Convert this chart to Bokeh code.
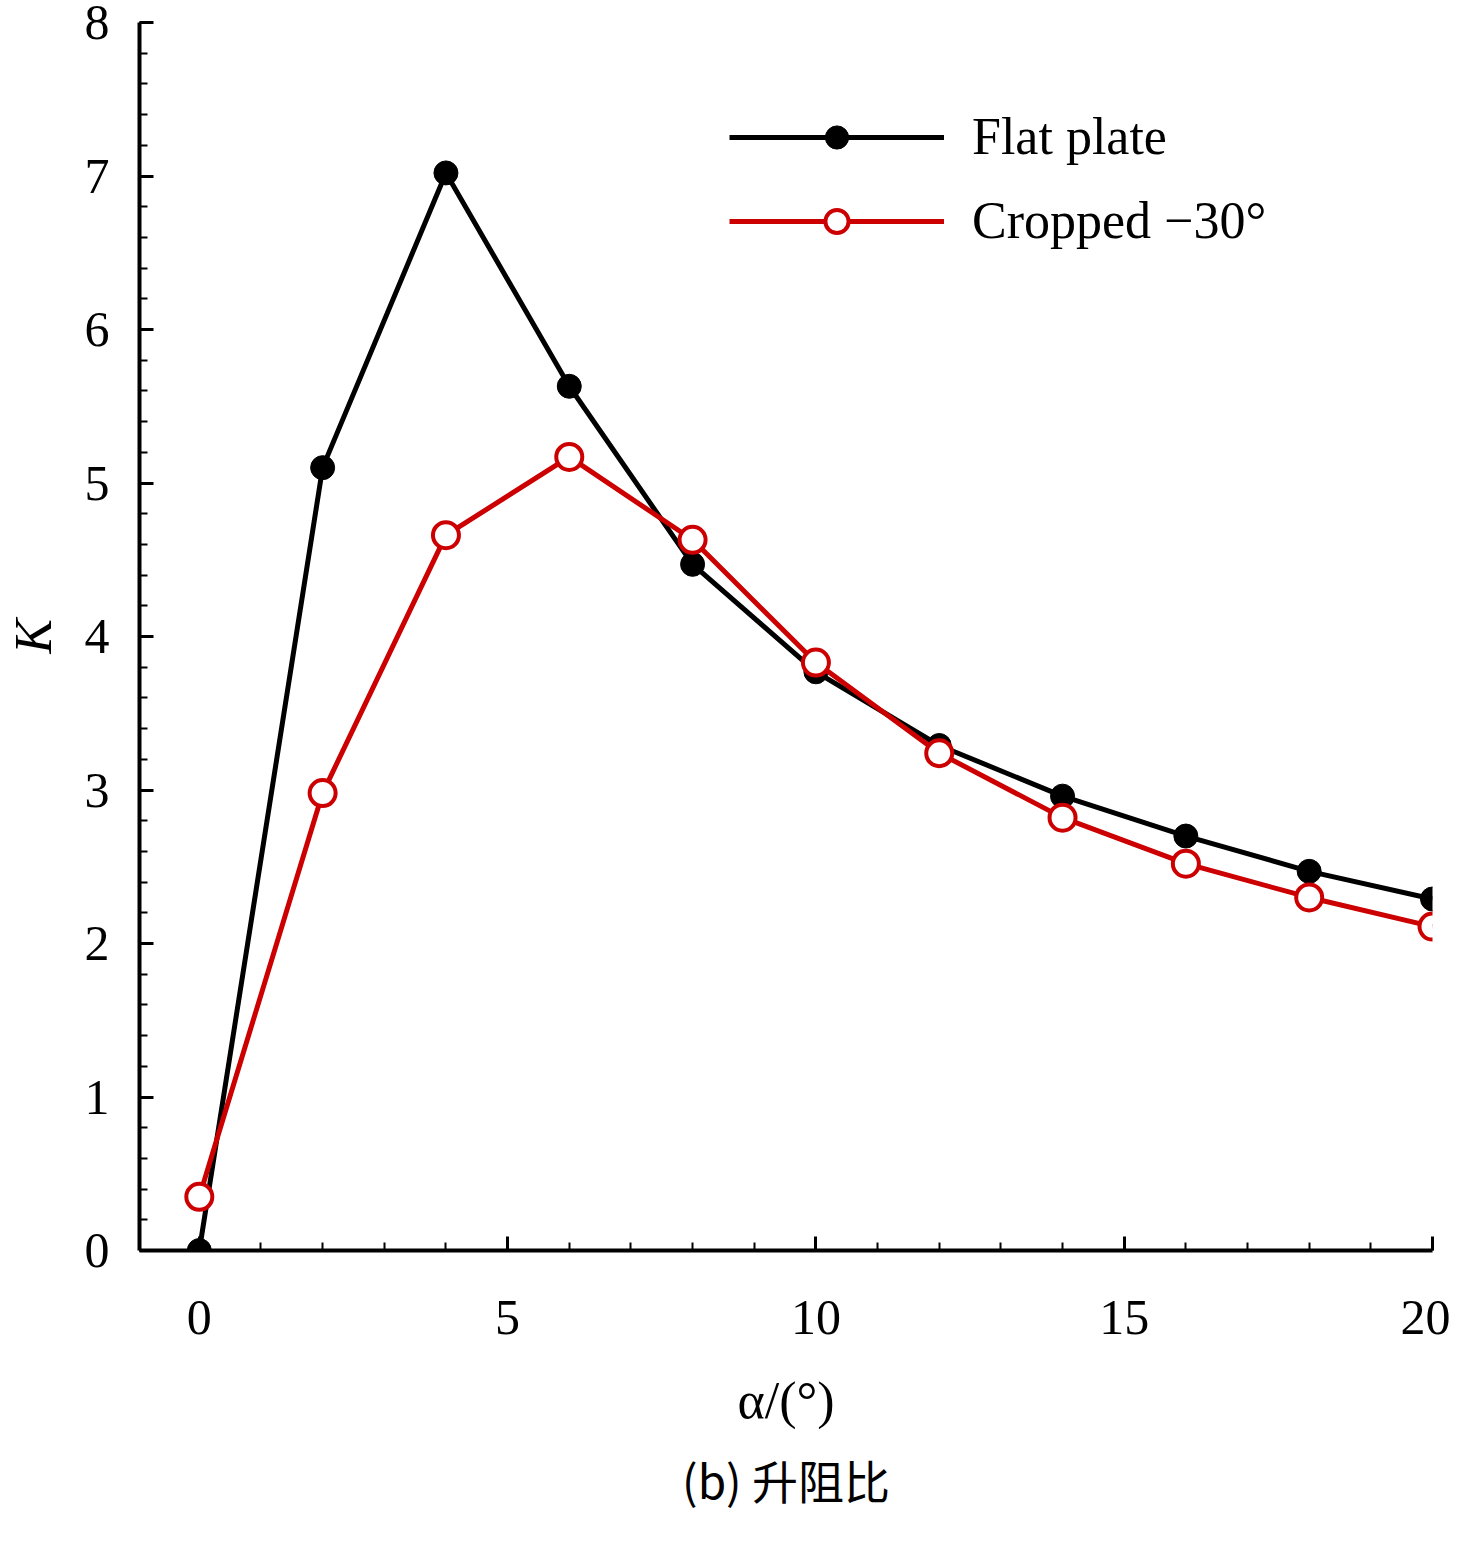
from bokeh.plotting import figure
from bokeh.models import Range1d, Legend, LegendItem, Title, FixedTicker
from bokeh.embed import file_html
from bokeh.resources import INLINE

alpha = [0, 2, 4, 6, 8, 10, 12, 14, 16, 18, 20]
flat = [0.0, 5.1, 7.02, 5.63, 4.47, 3.77, 3.29, 2.96, 2.7, 2.47, 2.29]
cropped = [0.35, 2.98, 4.66, 5.17, 4.63, 3.83, 3.24, 2.82, 2.52, 2.3, 2.11]
x_ticks = [0, 5, 10, 15, 20]
y_ticks = [0, 1, 2, 3, 4, 5, 6, 7, 8]

F = "Liberation Serif"
p = figure(width=1450, height=1535, output_backend="svg", toolbar_location=None,
           x_range=Range1d(-0.97, 20), y_range=Range1d(0, 8),
           min_border_left=139, min_border_right=18, min_border_top=22,
           min_border_bottom=285)
p.outline_line_color = None
p.grid.visible = False
p.background_fill_color = "white"

l1 = p.line(alpha, flat, line_color="black", line_width=5)
m1 = p.scatter(alpha, flat, size=24, fill_color="black", line_color="black")
l2 = p.line(alpha, cropped, line_color="#cc0000", line_width=5)
m2 = p.scatter(alpha, cropped, size=26, fill_color="white", line_color="#cc0000", line_width=4)

for ax in (p.xaxis[0], p.yaxis[0]):
    ax.axis_line_width = 4
    ax.axis_line_color = "black"
    ax.major_tick_in = 14
    ax.major_tick_out = 0
    ax.minor_tick_in = 8
    ax.minor_tick_out = 0
    ax.major_tick_line_width = 3
    ax.minor_tick_line_width = 2
    ax.major_label_text_font = F
    ax.major_label_text_font_size = "50px"
    ax.major_label_text_color = "black"
    ax.axis_label_text_font = F
    ax.axis_label_text_font_size = "52px"
    ax.axis_label_text_color = "black"
    ax.axis_label_text_font_style = "normal"

p.xaxis.ticker = FixedTicker(ticks=x_ticks, minor_ticks=list(range(0, 21)))
p.yaxis.ticker = FixedTicker(ticks=y_ticks, minor_ticks=[i * 0.2 for i in range(41)])
p.xaxis.major_label_standoff = 50
p.yaxis.major_label_standoff = 30
p.xaxis.axis_label = "α/(°)"
p.xaxis.axis_label_standoff = 35
p.yaxis.axis_label = "K"
p.yaxis.axis_label_text_font_style = "italic"
p.yaxis.axis_label_standoff = 20

cap = Title(text="(b) 升阻比", align="center", text_font="Noto Sans CJK SC",
            text_font_size="46px", text_font_style="normal", text_color="black",
            standoff=25)
p.add_layout(cap, "below")

legend = Legend(items=[LegendItem(label="Flat plate", renderers=[l1, m1]),
                       LegendItem(label="Cropped −30°", renderers=[l2, m2])],
                location=(590, 1000))
legend.border_line_color = None
legend.background_fill_alpha = 0
legend.glyph_width = 215
legend.glyph_height = 58
legend.label_text_font = F
legend.label_text_font_size = "52px"
legend.label_text_color = "black"
legend.spacing = 25
legend.label_standoff = 28
p.add_layout(legend, "center")

open("out.html", "w").write(file_html(p, INLINE))
